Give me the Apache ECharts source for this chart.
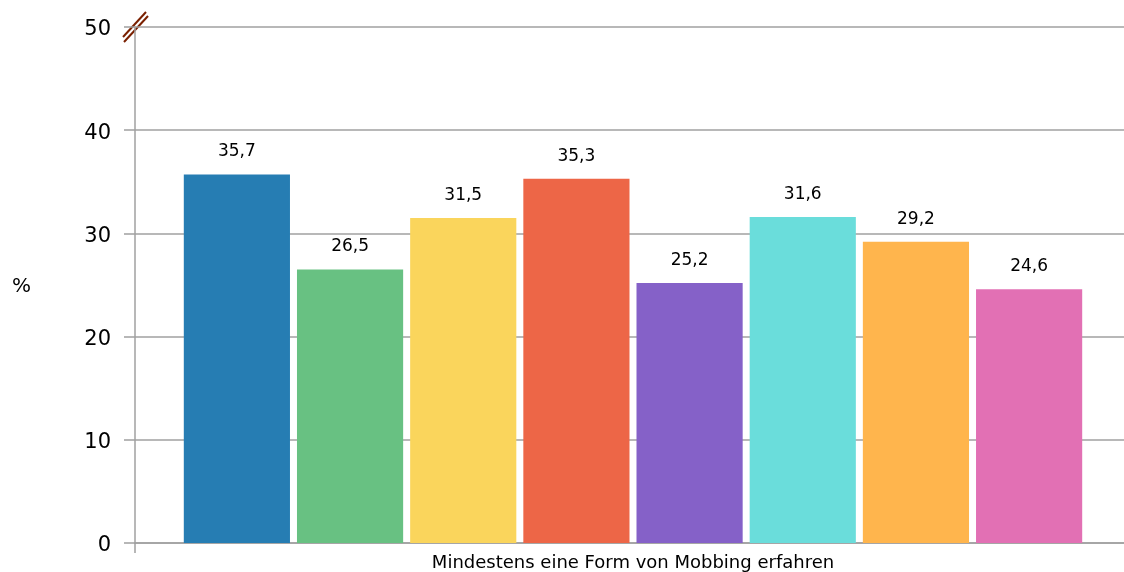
<!DOCTYPE html>
<html>
<head>
<meta charset="utf-8">
<script src="https://cdn.jsdelivr.net/npm/echarts@6/dist/echarts.min.js"></script>
<style>
  html, body { margin: 0; padding: 0; background: #fff; overflow: hidden; }
  #chart { width: 1131px; height: 572px; }
</style>
</head>
<body>
<div id="chart"></div>
<script>
const categories = ['Mindestens eine Form von Mobbing erfahren'];
const seriesValues = [35.7, 26.5, 31.5, 35.3, 25.2, 31.6, 29.2, 24.6];
const seriesColors = ['#267db3', '#68c182', '#fad55c', '#ed6647', '#8561c8', '#6adddb', '#ffb54d', '#e270b4'];
const yTicks = [0, 10, 20, 30, 40, 50];

// chart is slightly wider than the window so the category band runs past the right edge
const chart = echarts.init(document.getElementById('chart'));
const font = 'DejaVu Sans, sans-serif';

chart.setOption({
  animation: false,
  grid: { left: 135, right: 0, top: 27, bottom: 29, containLabel: false },
  xAxis: {
    type: 'category',
    data: categories,
    axisLine: { lineStyle: { color: '#a0a0a0', width: 1.5 } },
    axisTick: { show: true, length: 10, lineStyle: { color: '#a0a0a0', width: 1.5 } },
    axisLabel: { color: '#000', fontSize: 18, fontFamily: font, margin: 11 }
  },
  yAxis: {
    type: 'value',
    min: yTicks[0],
    max: yTicks[yTicks.length - 1],
    interval: 10,
    name: '%',
    nameLocation: 'middle',
    nameRotate: 0,
    nameGap: 104,
    nameTextStyle: { color: '#000', fontSize: 20, fontFamily: font, verticalAlign: 'top', lineHeight: 4 },
    axisLine: { show: true, lineStyle: { color: '#a0a0a0', width: 1.5 } },
    axisTick: { show: true, length: 11, lineStyle: { color: '#a0a0a0', width: 1.5 } },
    splitLine: { lineStyle: { color: '#a0a0a0', width: 1.5 } },
    axisLabel: { color: '#000', fontSize: 21, fontFamily: font, margin: 24, verticalAlign: 'top', lineHeight: 6 }
  },
  series: seriesValues.map((v, i) => ({
    type: 'bar',
    data: [v],
    barGap: '6.6%',
    barCategoryGap: '9.8%',
    itemStyle: { color: seriesColors[i] },
    label: {
      show: true,
      position: 'top',
      distance: 14,
      color: '#000',
      fontSize: 17,
      fontFamily: font,
      formatter: (p) => String(p.value).replace('.', ',')
    }
  })),
  graphic: [
    { type: 'line', shape: { x1: 123, y1: 37, x2: 146, y2: 12 }, style: { stroke: '#7a2000', lineWidth: 2 } },
    { type: 'line', shape: { x1: 124, y1: 42, x2: 148, y2: 16 }, style: { stroke: '#7a2000', lineWidth: 2 } }
  ]
});
</script>
</body>
</html>
